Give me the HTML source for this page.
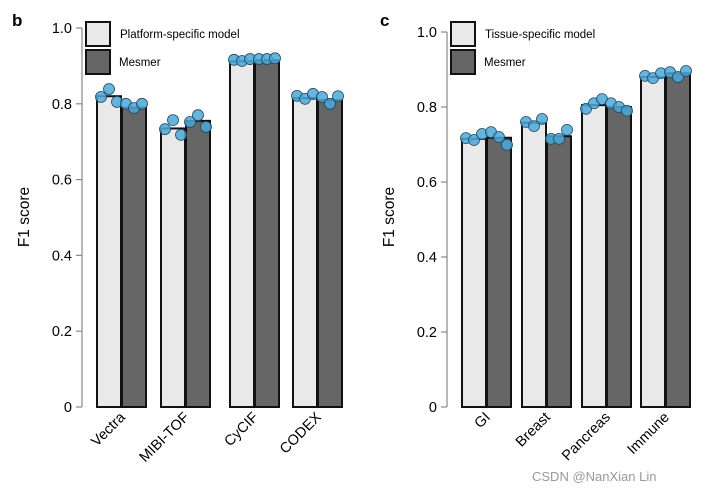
<!DOCTYPE html>
<html><head><meta charset="utf-8"><style>
body{margin:0;background:#fff}
svg{display:block;font-family:"Liberation Sans",Arial,sans-serif}
</style></head><body>
<svg id="c" width="714" height="490" viewBox="0 0 714 490"></svg>
<script>
const catsB=["Vectra","MIBI-TOF","CyCIF","CODEX"];
const lightB=[0.82,0.735,0.912,0.815];
const darkB=[0.79,0.755,0.915,0.81];
const ptsLightB=[[0.818,0.839,0.805],[0.733,0.757,0.718],[0.916,0.913,0.918],[0.821,0.813,0.826]];
const ptsDarkB=[[0.80,0.789,0.80],[0.752,0.770,0.739],[0.918,0.918,0.92],[0.818,0.80,0.82]];
const catsC=["GI","Breast","Pancreas","Immune"];
const lightC=[0.715,0.758,0.805,0.88];
const darkC=[0.718,0.722,0.80,0.89];
const ptsLightC=[[0.717,0.712,0.728],[0.76,0.749,0.768],[0.795,0.81,0.821],[0.883,0.877,0.89]];
const ptsDarkC=[[0.733,0.72,0.699],[0.715,0.715,0.739],[0.81,0.80,0.79],[0.893,0.88,0.896]];
const yTicks=[0,0.2,0.4,0.6,0.8,1.0];
const yTickLabels=["0","0.2","0.4","0.6","0.8","1.0"];

const svg=document.getElementById('c');
const NS="http://www.w3.org/2000/svg";
function el(t,a,txt){const e=document.createElementNS(NS,t);for(const k in a)e.setAttribute(k,a[k]);if(txt!==undefined)e.textContent=txt;svg.appendChild(e);return e;}

function panel(p){
  const y=v=>p.y0-(p.y0-p.y1)*v;
  const g=el('line',{x1:p.ax,y1:p.y1,x2:p.ax,y2:p.y0,stroke:'#888','stroke-width':1.2});
  
  yTicks.forEach((t,i)=>{
    const tk=el('line',{x1:p.ax-6,y1:y(t),x2:p.ax,y2:y(t),stroke:'#888','stroke-width':1.2});
    
    const tl=el('text',{x:p.ax-10,y:y(t)+5,'text-anchor':'end','font-size':14.5},yTickLabels[i]);
    
  });
  const yl=el('text',{x:0,y:0,'text-anchor':'middle','font-size':15.5,transform:`translate(${p.ax-53},217) rotate(-90)`},'F1 score');
  
  const bw=24;
  p.cats.forEach((c,i)=>{
    const x=p.gx[i];
    const b1=el('rect',{x:x,y:y(p.light[i]),width:bw,height:p.y0-y(p.light[i]),fill:'#e9e9e9',stroke:'#111','stroke-width':2});
    
    const b2=el('rect',{x:x+bw+1,y:y(p.dark[i]),width:bw,height:p.y0-y(p.dark[i]),fill:'#666',stroke:'#111','stroke-width':2});
    
    p.pl[i].forEach((v,j)=>{const d=el('circle',{cx:x+[4,12,20][j],cy:y(v),r:5.5,fill:'#4aa8d8','fill-opacity':0.85,stroke:'#1d4a66','stroke-width':0.8});
      });
    p.pd[i].forEach((v,j)=>{const d=el('circle',{cx:x+bw+1+[4,12,20][j],cy:y(v),r:5.5,fill:'#4aa8d8','fill-opacity':0.85,stroke:'#1d4a66','stroke-width':0.8});
      });
    const cx=x+bw;
    const xl=el('text',{x:0,y:0,'text-anchor':'end','font-size':14.5,transform:`translate(${cx+5},${p.y0+11}) rotate(-45)`},c);
    
  });
  const lx=p.ax+4;
  const l1=el('rect',{x:lx,y:22,width:24,height:24,fill:'#e9e9e9',stroke:'#111','stroke-width':2});
  
  const t1=el('text',{x:lx+34,y:38,'font-size':11.5},p.leg);
  
  const l2=el('rect',{x:lx,y:50,width:24,height:24,fill:'#666',stroke:'#111','stroke-width':2});
  
  const t2=el('text',{x:lx+33,y:66,'font-size':11.5},'Mesmer');
  
  const pl=el('text',{x:p.lx,y:26,'font-size':17,'font-weight':'bold'},p.letter);
  
}
panel({id:'panel-b',ax:82,y0:407,y1:28,cats:catsB,light:lightB,dark:darkB,pl:ptsLightB,pd:ptsDarkB,gx:[97,161,230,293],leg:'Platform-specific model',letter:'b',lx:12});
panel({id:'panel-c',ax:447,y0:407,y1:32,cats:catsC,light:lightC,dark:darkC,pl:ptsLightC,pd:ptsDarkC,gx:[462,522,582,641],leg:'Tissue-specific model',letter:'c',lx:380});
const wm=el('text',{x:532,y:481,'font-size':13,fill:'#999'},'CSDN @NanXian Lin');

</script>
</body></html>
